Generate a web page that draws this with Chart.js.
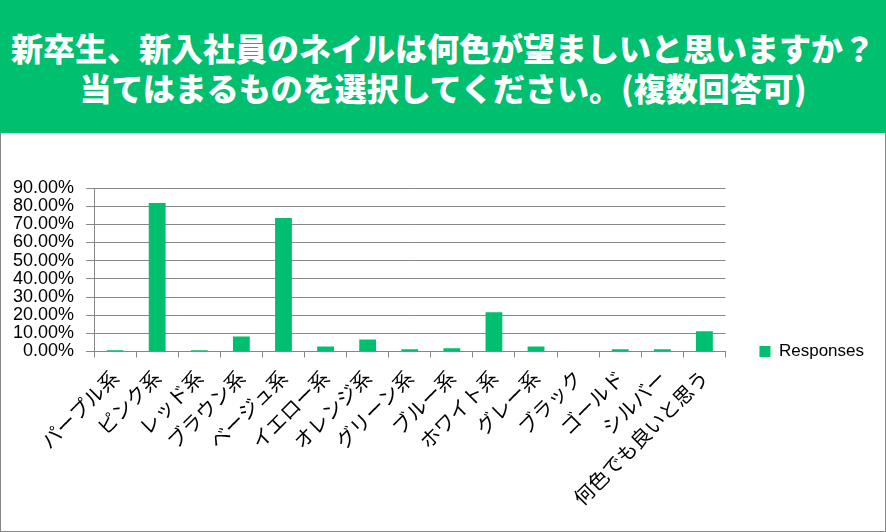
<!DOCTYPE html>
<html>
<head>
<meta charset="utf-8">
<script src="https://cdn.jsdelivr.net/npm/chart.js@4"></script>
<style>
  body { margin: 0; background: #fff; }
  #header {
    position: absolute; left: 0; top: 0; width: 886px; height: 133px;
    background: #00BF6F; color: #fff;
    display: flex; flex-direction: column; justify-content: center; align-items: center;
    font-family: "Noto Sans CJK JP", sans-serif; font-weight: 900; font-size: 32px; line-height: 40px;
    white-space: nowrap;
  }
  #chartBox {
    position: absolute; left: 0; top: 133px; width: 886px; height: 399px;
    box-sizing: border-box; border: 1px solid #878787; border-top: none;
  }
</style>
</head>
<body>
<div id="header">
  <div>新卒生、新入社員のネイルは何色が望ましいと思いますか？</div>
  <div>当てはまるものを選択してください。(複数回答可)</div>
</div>
<div id="chartBox"><canvas id="nailChart" width="884" height="398"></canvas></div>
<script>
// Nail colour survey, share of respondents (%)
const categories = ['パープル系', 'ピンク系', 'レッド系', 'ブラウン系', 'ベージュ系', 'イエロー系', 'オレンジ系',
    'グリーン系', 'ブルー系', 'ホワイト系', 'グレー系', 'ブラック', 'ゴールド', 'シルバー', '何色でも良いと思う'];
const responses = [0.7, 81.8, 0.7, 8.2, 73.5, 2.7, 6.6, 1.3, 1.8, 21.6, 2.7, 0, 1.3, 1.3, 11.1];
const yMax = 90;
const yStep = 10;

const gridGray = '#878787';
const green = '#00BF6F';

const ctx = document.getElementById('nailChart').getContext('2d');

new Chart(ctx, {
    type: 'bar',
    data: {
        labels: categories,
        datasets: [{
            label: 'Responses',
            data: responses,
            backgroundColor: green,
            borderWidth: 0,
            barPercentage: 0.4,
            categoryPercentage: 1
        }]
    },
    options: {
        responsive: false,
        animation: false,
        layout: {
            padding: { top: 55, right: 11, bottom: 16, left: 0 }
        },
        plugins: {
            tooltip: { enabled: false },
            legend: {
                position: 'right',
                labels: {
                    boxWidth: 11,
                    boxHeight: 11,
                    padding: 34,
                    color: '#000',
                    font: { family: 'Liberation Sans', size: 17 }
                }
            }
        },
        scales: {
            x: {
                grid: {
                    drawOnChartArea: false,
                    tickLength: 6,
                    color: gridGray,
                    offset: true
                },
                border: { display: true, color: gridGray },
                ticks: {
                    minRotation: 45,
                    maxRotation: 45,
                    autoSkip: false,
                    padding: 8,
                    color: '#000',
                    font: { family: 'Noto Sans CJK JP', size: 20 }
                }
            },
            y: {
                min: 0,
                max: yMax,
                grid: { color: gridGray, tickLength: 8 },
                border: { display: true, color: gridGray },
                ticks: {
                    stepSize: yStep,
                    autoSkip: false,
                    padding: 12,
                    color: '#000',
                    font: { family: 'Liberation Sans', size: 18 },
                    callback: v => v.toFixed(2) + '%'
                }
            }
        }
    }
});
</script>
</body>
</html>
